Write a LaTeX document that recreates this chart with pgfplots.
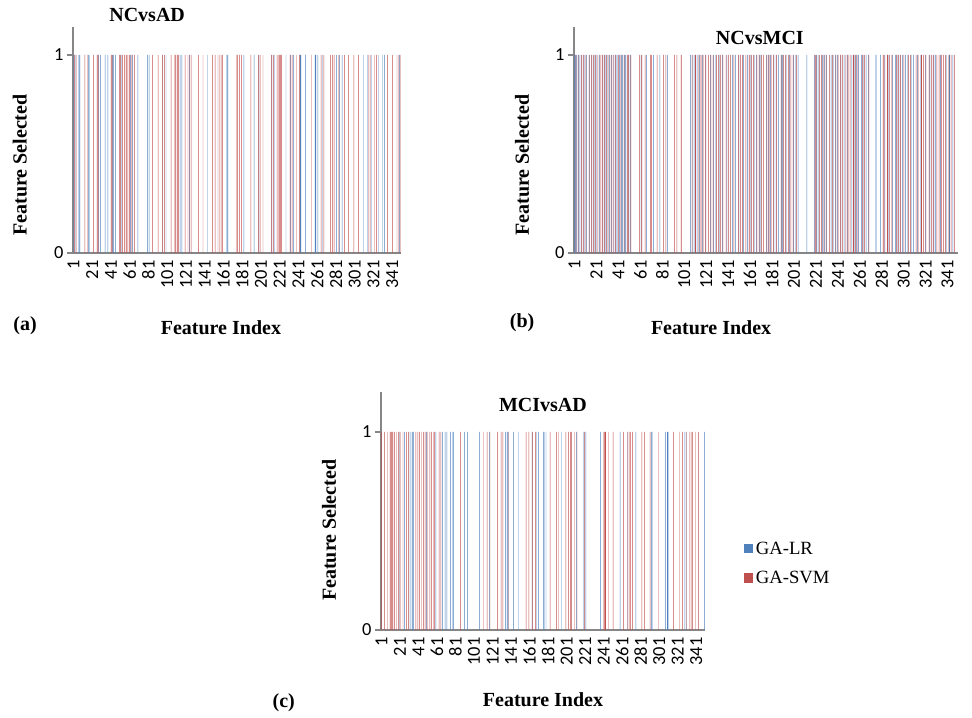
\documentclass[border=0pt]{standalone}
\usepackage{pgfplots}
\pgfplotsset{compat=1.18}
\usepackage{fontspec}
\setmainfont{Liberation Serif}
\newfontfamily\calib{Carlito}

\definecolor{lrblue}{RGB}{79,129,189}
\definecolor{svmred}{RGB}{192,80,77}
\definecolor{axisgray}{RGB}{134,134,134}

\tikzset{tag/.style={font=\bfseries\fontsize{15}{16}\selectfont, inner sep=0pt}}

\pgfplotsset{
  panel/.style={
    scale only axis, ybar=0pt, bar width=0.48,
    xmin=0.5, xmax=350.5, ymin=0,
    axis lines*=left,
    axis line style={axisgray, line width=0.9pt},
    ytick={0,1}, xtick={1,21,...,341},
    tick align=outside, major tick length=4.5pt,
    xtick style={draw=none},
    ytick style={axisgray, line width=0.9pt},
    /pgf/number format/assume math mode=true,
    xticklabel style={rotate=90, anchor=east, inner sep=1pt, font=\calib\fontsize{13.8}{14}\selectfont},
    yticklabel style={xshift=0.8pt, font=\calib\fontsize{13.8}{14}\selectfont},
    title style={font=\bfseries\fontsize{15}{16}\selectfont, anchor=center, inner sep=0pt, yshift=-6pt},
    label style={font=\bfseries\fontsize{15}{16}\selectfont, anchor=center, inner sep=0pt},
    clip=false,
  },
  lr/.style={fill=lrblue, draw=none},
  svm/.style={fill=svmred, draw=none},
}

\begin{document}
\begin{tikzpicture}
\useasboundingbox (0pt,0pt) rectangle (729pt,538.5pt);

% (a) NC vs AD
\begin{axis}[panel, at={(54.75pt,348.75pt)}, anchor=south west,
  width=246pt, height=169.3pt, ymax=1.14,
  title={NCvsAD}, title style={at={(axis description cs:0.226,1.054)}},
  xlabel={Feature Index}, xlabel style={at={(axis description cs:0.451,-0.332)}},
  ylabel={Feature Selected}, ylabel style={at={(axis description cs:-0.162,0.39)}}]
\addplot[lr] coordinates {
(1,1) (3,1) (7,1) (8,1) (17,1) (18,1) (28,1) (30,1) (35,1) (38,1) (43,1) (44,1)
(46,1) (52,1) (62,1) (64,1) (70,1) (80,1) (82,1) (96,1) (100,1) (115,1) (117,1)
(125,1) (144,1) (165,1) (166,1) (183,1) (194,1) (199,1) (213,1) (216,1) (228,1)
(233,1) (236,1) (243,1) (244,1) (249,1) (259,1) (260,1) (262,1) (267,1) (282,1)
(285,1) (288,1) (311,1) (315,1) (319,1) (327,1) (331,1) (333,1) (349,1)};
\addplot[svm] coordinates {
(2,1) (4,1) (13,1) (16,1) (22,1) (26,1) (27,1) (41,1) (42,1) (50,1) (51,1) (53,1)
(55,1) (57,1) (58,1) (60,1) (61,1) (63,1) (66,1) (85,1) (91,1) (96,1) (98,1)
(105,1) (109,1) (110,1) (112,1) (113,1) (120,1) (123,1) (125,1) (127,1) (134,1)
(139,1) (149,1) (152,1) (155,1) (157,1) (159,1) (160,1) (175,1) (176,1) (178,1)
(180,1) (190,1) (198,1) (200,1) (203,1) (212,1) (214,1) (218,1) (220,1) (221,1)
(222,1) (223,1) (232,1) (234,1) (239,1) (242,1) (255,1) (265,1) (268,1) (275,1)
(277,1) (279,1) (284,1) (290,1) (294,1) (300,1) (305,1) (316,1) (318,1) (322,1)
(324,1) (336,1) (341,1) (346,1) (348,1) (350,1)};
\node[tag] at (axis description cs:-0.146,-0.323) {(a)};
\end{axis}

% (b) NC vs MCI
\begin{axis}[panel, at={(430.5pt,348.75pt)}, anchor=south west,
  width=288pt, height=169.3pt, ymax=1.14,
  title={NCvsMCI}, title style={at={(axis description cs:0.484,0.953)}},
  xlabel={Feature Index}, xlabel style={at={(axis description cs:0.357,-0.332)}},
  ylabel={Feature Selected}, ylabel style={at={(axis description cs:-0.135,0.39)}}]
\addplot[lr] coordinates {
(1,1) (2,1) (3,1) (5,1) (6,1) (8,1) (10,1) (12,1) (15,1) (17,1) (19,1) (21,1)
(24,1) (27,1) (29,1) (31,1) (33,1) (35,1) (37,1) (39,1) (40,1) (42,1) (44,1)
(45,1) (47,1) (48,1) (50,1) (52,1) (62,1) (67,1) (73,1) (79,1) (86,1) (107,1)
(109,1) (111,1) (113,1) (115,1) (118,1) (121,1) (125,1) (128,1) (130,1) (133,1)
(136,1) (140,1) (145,1) (148,1) (151,1) (155,1) (159,1) (162,1) (165,1) (167,1)
(170,1) (171,1) (176,1) (178,1) (180,1) (183,1) (185,1) (187,1) (190,1) (191,1)
(194,1) (197,1) (201,1) (203,1) (205,1) (213,1) (220,1) (222,1) (224,1) (227,1)
(229,1) (231,1) (235,1) (237,1) (239,1) (241,1) (244,1) (247,1) (250,1) (254,1)
(256,1) (258,1) (260,1) (263,1) (265,1) (267,1) (269,1) (276,1) (280,1) (284,1)
(287,1) (291,1) (294,1) (296,1) (298,1) (300,1) (303,1) (305,1) (308,1) (310,1)
(314,1) (317,1) (321,1) (325,1) (328,1) (330,1) (335,1) (340,1) (343,1) (346,1)};
\addplot[svm] coordinates {
(2,1) (4,1) (7,1) (9,1) (11,1) (14,1) (16,1) (18,1) (20,1) (22,1) (24,1) (26,1)
(28,1) (30,1) (32,1) (34,1) (36,1) (38,1) (41,1) (43,1) (46,1) (49,1) (50,1)
(52,1) (60,1) (62,1) (65,1) (70,1) (71,1) (76,1) (82,1) (84,1) (92,1) (94,1)
(98,1) (108,1) (111,1) (114,1) (116,1) (118,1) (120,1) (123,1) (125,1) (127,1)
(130,1) (132,1) (134,1) (136,1) (139,1) (141,1) (143,1) (146,1) (150,1) (152,1)
(154,1) (157,1) (160,1) (162,1) (164,1) (167,1) (169,1) (171,1) (173,1) (176,1)
(178,1) (180,1) (182,1) (185,1) (189,1) (191,1) (193,1) (196,1) (198,1) (200,1)
(203,1) (220,1) (221,1) (224,1) (226,1) (228,1) (230,1) (233,1) (236,1) (239,1)
(241,1) (243,1) (245,1) (248,1) (250,1) (252,1) (255,1) (257,1) (259,1) (263,1)
(265,1) (269,1) (282,1) (283,1) (286,1) (288,1) (290,1) (294,1) (296,1) (298,1)
(301,1) (305,1) (307,1) (312,1) (314,1) (317,1) (319,1) (321,1) (324,1) (326,1)
(328,1) (331,1) (333,1) (335,1) (337,1) (339,1) (342,1) (344,1) (347,1)};
\node[tag] at (axis description cs:-0.135,-0.31) {(b)};
\end{axis}

% (c) MCI vs AD
\begin{axis}[panel, at={(285.75pt,66pt)}, anchor=south west,
  width=243pt, height=178.2pt, ymax=1.2,
  title={MCIvsAD}, title style={at={(axis description cs:0.5,0.947)}},
  xlabel={Feature Index}, xlabel style={at={(axis description cs:0.5,-0.295)}},
  ylabel={Feature Selected}, ylabel style={at={(axis description cs:-0.16,0.42)}},
  legend style={at={(axis description cs:1.12,0.28)}, anchor=west, draw=none,
    font=\fontsize{14}{15}\selectfont, row sep=7pt, inner sep=0pt,
    cells={anchor=west}},
  legend image code/.code={\fill[#1] (0pt,-3.4pt) rectangle (6.8pt,3.4pt);}]
\addplot[lr] coordinates {
(21,1) (26,1) (31,1) (33,1) (35,1) (36,1) (50,1) (60,1) (67,1) (70,1) (72,1)
(76,1) (78,1) (79,1) (91,1) (94,1) (107,1) (118,1) (135,1) (137,1) (138,1)
(144,1) (149,1) (164,1) (169,1) (171,1) (176,1) (177,1) (179,1) (196,1) (212,1)
(220,1) (222,1) (238,1) (259,1) (267,1) (276,1) (293,1) (294,1) (308,1) (310,1)
(311,1) (329,1) (331,1) (350,1)};
\addplot[svm] coordinates {
(1,1) (4,1) (7,1) (10,1) (11,1) (12,1) (13,1) (15,1) (17,1) (19,1) (21,1) (24,1)
(28,1) (30,1) (38,1) (40,1) (42,1) (44,1) (46,1) (48,1) (50,1) (53,1) (55,1)
(57,1) (58,1) (63,1) (65,1) (86,1) (111,1) (115,1) (118,1) (126,1) (130,1)
(132,1) (138,1) (157,1) (160,1) (164,1) (167,1) (183,1) (190,1) (192,1) (200,1)
(203,1) (205,1) (206,1) (209,1) (212,1) (220,1) (241,1) (242,1) (243,1) (246,1)
(251,1) (262,1) (267,1) (269,1) (270,1) (272,1) (282,1) (285,1) (291,1) (300,1)
(316,1) (323,1) (326,1) (330,1) (334,1) (336,1) (337,1) (340,1) (343,1)};
\legend{GA-LR, GA-SVM}
\node[tag] at (axis description cs:-0.30,-0.307) {(c)};
\end{axis}
\end{tikzpicture}
\end{document}
